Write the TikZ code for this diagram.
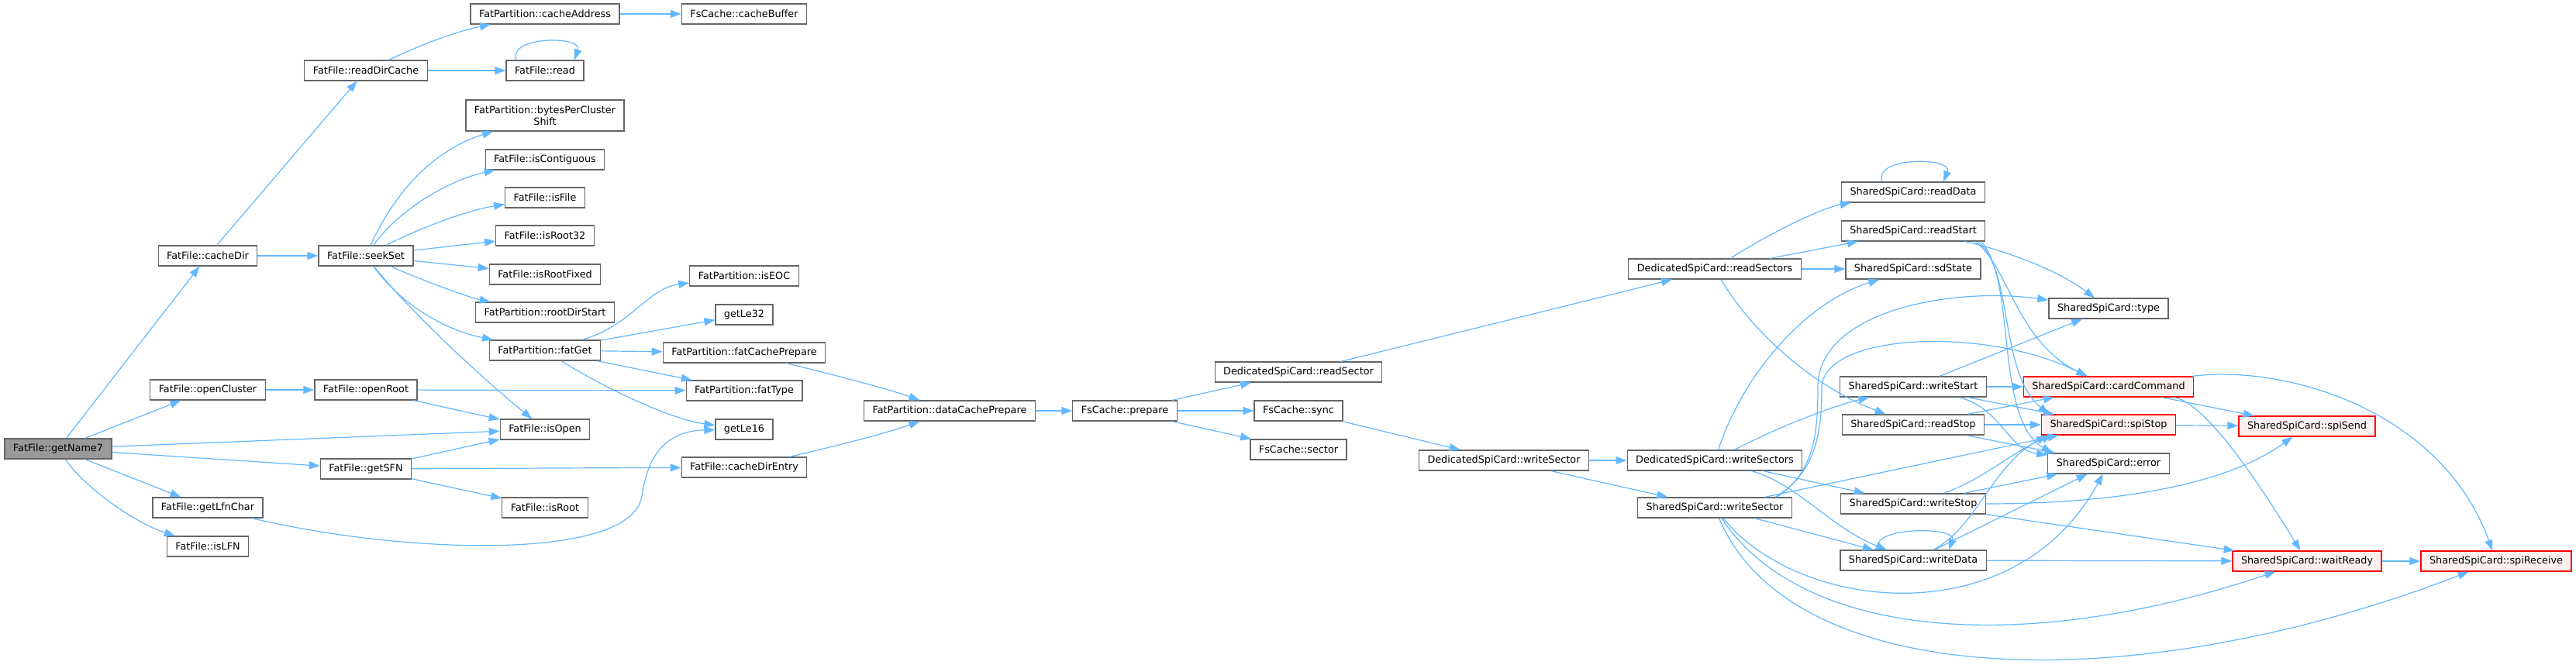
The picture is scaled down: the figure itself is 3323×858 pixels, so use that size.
\documentclass[tikz,border=0pt]{standalone}
\usepackage{fontspec}
\setmainfont{DejaVu Sans}
\usetikzlibrary{arrows.meta}

\definecolor{edgeblue}{HTML}{63B8FF}
\definecolor{boxgray}{HTML}{666666}
\definecolor{hotfill}{HTML}{FFF0F0}
\definecolor{rootfill}{HTML}{999999}

\begin{document}
\begin{tikzpicture}[x=1pt,y=-1pt,
    fn/.style={draw=boxgray,fill=white,line width=1.2pt,
      font=\fontsize{12.8}{14.5}\selectfont,align=center,
      minimum height=26pt,inner xsep=11pt,inner ysep=2pt},
    fnhot/.style={fn,draw=red,fill=hotfill},
    fnroot/.style={fn,fill=rootfill},
    call/.style={draw=edgeblue,line width=1.2pt,-{Triangle[length=14pt,width=10pt]}}]

    \useasboundingbox (0,0) rectangle (3323,858);

    % --- FatFile functions ---
    \node[fnroot] (getName7) at (75,579) {FatFile::getName7};
    \node[fn] (cacheDir) at (268,330) {FatFile::cacheDir};
    \node[fn] (openCluster) at (268,503) {FatFile::openCluster};
    \node[fn] (getLfnChar) at (268,655) {FatFile::getLfnChar};
    \node[fn] (isLFN) at (268,705) {FatFile::isLFN};
    \node[fn] (readDirCache) at (472,91) {FatFile::readDirCache};
    \node[fn] (seekSet) at (472,330) {FatFile::seekSet};
    \node[fn] (openRoot) at (472,503) {FatFile::openRoot};
    \node[fn] (getSFN) at (472,605) {FatFile::getSFN};

    % --- callees of seekSet etc. ---
    \node[fn] (cacheAddress) at (703,18) {FatPartition::cacheAddress};
    \node[fn] (read) at (703,91) {FatFile::read};
    \node[fn,minimum height=40pt] (bytesPerClusterShift) at (703,149) {FatPartition::bytesPerCluster\\Shift};
    \node[fn] (isContiguous) at (703,206) {FatFile::isContiguous};
    \node[fn] (isFile) at (703,255) {FatFile::isFile};
    \node[fn] (isRoot32) at (703,304) {FatFile::isRoot32};
    \node[fn] (isRootFixed) at (703,354) {FatFile::isRootFixed};
    \node[fn] (rootDirStart) at (703,403) {FatPartition::rootDirStart};
    \node[fn] (fatGet) at (703,452) {FatPartition::fatGet};
    \node[fn] (isOpen) at (703,554) {FatFile::isOpen};
    \node[fn] (isRoot) at (703,655) {FatFile::isRoot};

    \node[fn] (cacheBuffer) at (960,18) {FsCache::cacheBuffer};
    \node[fn] (isEOC) at (960,356) {FatPartition::isEOC};
    \node[fn] (getLe32) at (960,406) {getLe32};
    \node[fn] (fatCachePrepare) at (960,455) {FatPartition::fatCachePrepare};
    \node[fn] (fatType) at (960,504) {FatPartition::fatType};
    \node[fn] (getLe16) at (960,554) {getLe16};
    \node[fn] (cacheDirEntry) at (960,603) {FatFile::cacheDirEntry};

    % --- cache ---
    \node[fn] (dataCachePrepare) at (1225,530) {FatPartition::dataCachePrepare};
    \node[fn] (prepare) at (1451,530) {FsCache::prepare};
    \node[fn] (readSector) at (1675,480) {DedicatedSpiCard::readSector};
    \node[fn] (sync) at (1675,530) {FsCache::sync};
    \node[fn] (sector) at (1675,580) {FsCache::sector};
    \node[fn] (dWriteSector) at (1940,594) {DedicatedSpiCard::writeSector};
    \node[fn] (readSectors) at (2212,347) {DedicatedSpiCard::readSectors};
    \node[fn] (writeSectors) at (2212,594) {DedicatedSpiCard::writeSectors};
    \node[fn] (sWriteSector) at (2212,655) {SharedSpiCard::writeSector};

    % --- SharedSpiCard ---
    \node[fn] (readData) at (2468,248) {SharedSpiCard::readData};
    \node[fn] (readStart) at (2468,298) {SharedSpiCard::readStart};
    \node[fn] (sdState) at (2468,347) {SharedSpiCard::sdState};
    \node[fn] (writeStart) at (2468,499) {SharedSpiCard::writeStart};
    \node[fn] (readStop) at (2468,548) {SharedSpiCard::readStop};
    \node[fn] (writeStop) at (2468,650) {SharedSpiCard::writeStop};
    \node[fn] (writeData) at (2468,723) {SharedSpiCard::writeData};
    \node[fn] (type) at (2720,398) {SharedSpiCard::type};
    \node[fnhot] (cardCommand) at (2720,499) {SharedSpiCard::cardCommand};
    \node[fnhot] (spiStop) at (2720,548) {SharedSpiCard::spiStop};
    \node[fn] (error) at (2720,598) {SharedSpiCard::error};
    \node[fnhot] (spiSend) at (2976,550) {SharedSpiCard::spiSend};
    \node[fnhot] (waitReady) at (2976,724) {SharedSpiCard::waitReady};
    \node[fnhot] (spiReceive) at (3220,724) {SharedSpiCard::spiReceive};

    % --- calls: FatFile side ---
    \draw[call] (getName7) -- (cacheDir);
    \draw[call] (getName7) -- (openCluster);
    \draw[call] (getName7) -- (isOpen);
    \draw[call] (getName7) -- (getSFN);
    \draw[call] (getName7) -- (getLfnChar);
    \draw[call] (getName7) .. controls (110,630) and (175,675) .. (isLFN);
    \draw[call] (cacheDir) -- (readDirCache);
    \draw[call] (cacheDir) -- (seekSet);
    \draw[call] (readDirCache) .. controls (560,50) and (600,38) .. (cacheAddress);
    \draw[call] (readDirCache) -- (read);
    \draw[call] ([xshift=-37pt]read.north) .. controls (655,46) and (752,46) .. ([xshift=38pt]read.north);
    \draw[call] (cacheAddress) -- (cacheBuffer);
    \draw[call] (seekSet) .. controls (515,235) and (570,190) .. (bytesPerClusterShift);
    \draw[call] (seekSet) .. controls (515,270) and (580,232) .. (isContiguous);
    \draw[call] (seekSet) .. controls (540,295) and (600,272) .. (isFile);
    \draw[call] (seekSet) -- (isRoot32);
    \draw[call] (seekSet) -- (isRootFixed);
    \draw[call] (seekSet) .. controls (560,368) and (610,385) .. (rootDirStart);
    \draw[call] (seekSet) .. controls (515,390) and (570,425) .. (fatGet);
    \draw[call] (seekSet) .. controls (510,380) and (600,470) .. (isOpen);
    \draw[call] (fatGet) .. controls (815,420) and (835,372) .. (isEOC);
    \draw[call] (fatGet) -- (getLe32);
    \draw[call] (fatGet) -- (fatCachePrepare);
    \draw[call] (fatGet) -- (fatType);
    \draw[call] (fatGet) .. controls (770,495) and (860,540) .. (getLe16);
    \draw[call] (openCluster) -- (openRoot);
    \draw[call] (openRoot) -- (fatType);
    \draw[call] (openRoot) -- (isOpen);
    \draw[call] (getSFN) -- (isOpen);
    \draw[call] (getSFN) -- (cacheDirEntry);
    \draw[call] (getSFN) -- (isRoot);
    \draw[call] (getLfnChar) .. controls (520,715) and (815,725) .. (828,640)
        .. controls (834,600) and (850,556) .. (getLe16);

    % --- calls: cache ---
    \draw[call] (fatCachePrepare) .. controls (1080,485) and (1140,500) .. (dataCachePrepare);
    \draw[call] (cacheDirEntry) .. controls (1080,575) and (1140,560) .. (dataCachePrepare);
    \draw[call] (dataCachePrepare) -- (prepare);
    \draw[call] (prepare) -- (readSector);
    \draw[call] (prepare) -- (sync);
    \draw[call] (prepare) -- (sector);
    \draw[call] (readSector) -- (readSectors);
    \draw[call] (sync) -- (dWriteSector);
    \draw[call] (dWriteSector) -- (writeSectors);
    \draw[call] (dWriteSector) -- (sWriteSector);

    % --- calls: DedicatedSpiCard ---
    \draw[call] (readSectors) .. controls (2275,305) and (2350,268) .. (readData);
    \draw[call] (readSectors) -- (readStart);
    \draw[call] (readSectors) -- (sdState);
    \draw[call] (readSectors) .. controls (2255,420) and (2330,495) .. (readStop);
    \draw[call] (writeSectors) .. controls (2250,480) and (2330,390) .. (sdState);
    \draw[call] (writeSectors) .. controls (2285,555) and (2360,525) .. (writeStart);
    \draw[call] (writeSectors) -- (writeStop);
    \draw[call] (writeSectors) .. controls (2320,625) and (2360,680) .. (writeData);

    % --- calls: SharedSpiCard ---
    \draw[call] ([xshift=-40pt]readData.north) .. controls (2415,202) and (2520,202) .. ([xshift=39pt]readData.north);
    \draw[call] (readStart) .. controls (2575,320) and (2650,345) .. (type);
    \draw[call] ([xshift=-14pt]readStart.south east) .. controls (2590,340) and (2600,440) .. (cardCommand);
    \draw[call] ([xshift=-10pt]readStart.south east) .. controls (2598,350) and (2578,480) .. ([xshift=10pt]spiStop.north west);
    \draw[call] ([xshift=-6pt]readStart.south east) .. controls (2602,360) and (2572,540) .. ([xshift=6pt]error.north west);
    \draw[call] (writeStart) -- (type);
    \draw[call] (writeStart) -- (cardCommand);
    \draw[call] (writeStart) -- (spiStop);
    \draw[call] (writeStart) .. controls (2580,525) and (2590,580) .. (error);
    \draw[call] (readStop) -- (cardCommand);
    \draw[call] (readStop) -- (spiStop);
    \draw[call] (readStop) -- (error);
    \draw[call] (writeStop) .. controls (2560,618) and (2600,580) .. ([xshift=15pt]spiStop.south west);
    \draw[call] (writeStop) -- (error);
    \draw[call] (writeStop) .. controls (2750,650) and (2880,620) .. (spiSend);
    \draw[call] (writeStop) -- (waitReady);
    \draw[call] ([xshift=-45pt]writeData.north) .. controls (2410,679) and (2525,679) .. ([xshift=46pt]writeData.north);
    \draw[call] (writeData) -- (waitReady);
    \draw[call] (writeData) -- (error);
    \draw[call] (writeData) .. controls (2550,680) and (2570,600) .. ([xshift=8pt]spiStop.south west);
    \draw[call] ([xshift=-20pt]sWriteSector.north east) .. controls (2340,610) and (2345,560) .. (2345,500)
        .. controls (2345,400) and (2520,370) .. (type);
    \draw[call] ([xshift=-22pt]sWriteSector.north east) .. controls (2342,610) and (2350,560) .. (2350,500)
        .. controls (2352,430) and (2560,420) .. (cardCommand);
    \draw[call] (sWriteSector) -- (spiStop);
    \draw[call] (sWriteSector) -- (writeData);
    \draw[call] (sWriteSector) .. controls (2320,790) and (2600,820) .. (error);
    \draw[call] (sWriteSector) .. controls (2320,820) and (2600,850) .. (waitReady);
    \draw[call] (sWriteSector) .. controls (2310,890) and (2750,905) .. (spiReceive);
    \draw[call] (cardCommand) -- (spiSend);
    \draw[call] (cardCommand) .. controls (2850,520) and (2930,650) .. (waitReady);
    \draw[call] (cardCommand) .. controls (2950,470) and (3150,530) .. (spiReceive);
    \draw[call] (spiStop) -- (spiSend);
    \draw[call] (waitReady) -- (spiReceive);

\end{tikzpicture}
\end{document}
